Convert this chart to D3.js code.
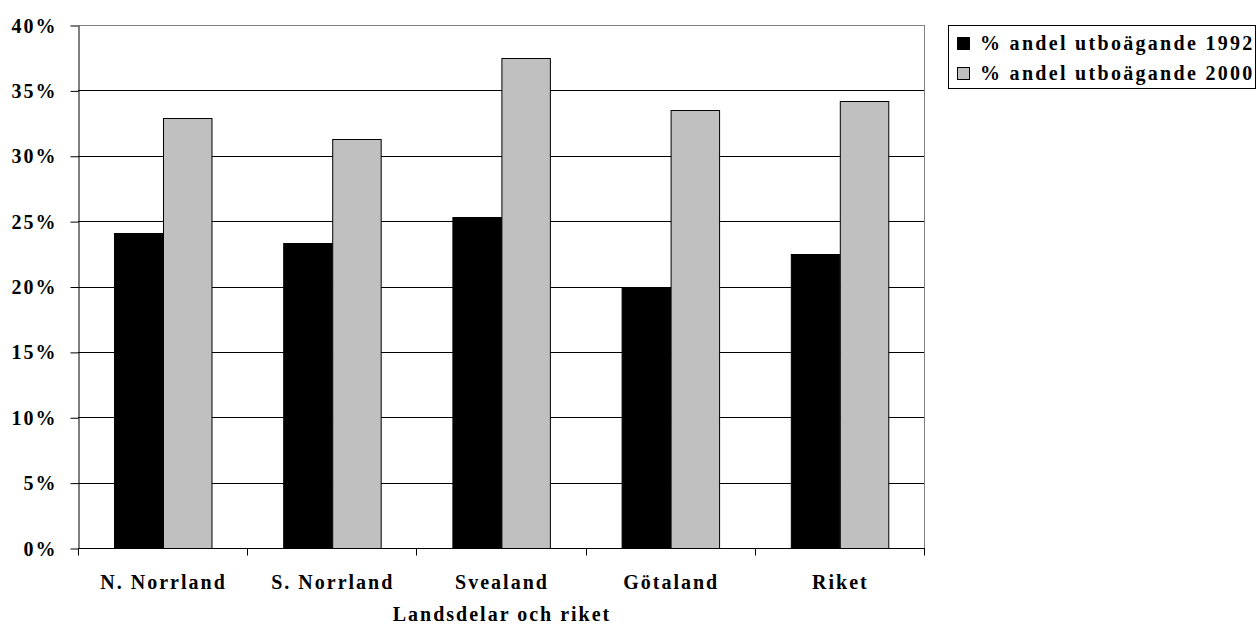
<!DOCTYPE html>
<html>
<head>
<meta charset="utf-8">
<script src="https://cdn.jsdelivr.net/npm/d3@7"></script>
<style>
  html, body { margin: 0; padding: 0; background: #fff; }
  svg { display: block; }
  svg text { font-family: "Liberation Serif", "DejaVu Serif", serif; font-weight: bold; font-size: 20px; letter-spacing: 2px; fill: #000; }
</style>
</head>
<body>
<svg id="chart" width="1257" height="627"></svg>
<script>
const categories = ["N. Norrland", "S. Norrland", "Svealand", "Götaland", "Riket"];
const seriesNames = ["% andel utboägande 1992", "% andel utboägande 2000"];
const values1992 = [24.1, 23.3, 25.3, 20.0, 22.5];
const values2000 = [32.9, 31.3, 37.5, 33.5, 34.2];
const yTicks = [0, 5, 10, 15, 20, 25, 30, 35, 40];
const xTitle = "Landsdelar och riket";
const colors = ["#000000", "#c0c0c0"];

const data = categories.map((c, i) => ({ cat: c, vals: [values1992[i], values2000[i]] }));

const svg = d3.select("#chart");
const mLeft = 78, mRight = 924, mTop = 25, mBottom = 548;

const x0 = d3.scaleBand().domain(categories).range([mLeft, mRight]).paddingInner(0).paddingOuter(0);
const x1 = d3.scaleBand().domain([0, 1]).range([0, x0.bandwidth()]).paddingInner(0).paddingOuter(0.745);
const y = d3.scaleLinear().domain([0, 40]).range([mBottom, mTop]);

// gridlines
svg.append("g").selectAll("line").data(yTicks.filter(t => t > 0 && t < 40)).join("line")
  .attr("x1", mLeft).attr("x2", mRight)
  .attr("y1", d => Math.round(y(d)) + 0.5).attr("y2", d => Math.round(y(d)) + 0.5)
  .attr("stroke", "#000").attr("stroke-width", 1);

// plot border top/right (gray)
svg.append("line").attr("x1", mLeft).attr("x2", mRight + 0.5).attr("y1", mTop + 0.5).attr("y2", mTop + 0.5)
  .attr("stroke", "#808080");
svg.append("line").attr("x1", mRight + 0.5).attr("x2", mRight + 0.5).attr("y1", mTop).attr("y2", mBottom)
  .attr("stroke", "#808080");

// bars
const groups = svg.append("g").selectAll("g").data(data).join("g")
  .attr("transform", d => `translate(${x0(d.cat)},0)`);
groups.selectAll("rect").data(d => d.vals.map((v, i) => ({ v, i }))).join("rect")
  .attr("x", d => Math.round(x1(d.i)) + 0.5)
  .attr("y", d => Math.round(y(d.v)) + 0.5)
  .attr("width", x1.bandwidth())
  .attr("height", d => Math.round(y(0)) - Math.round(y(d.v)))
  .attr("fill", d => colors[d.i])
  .attr("stroke", "#000").attr("stroke-width", 1);

// y axis
const yAxis = d3.axisLeft(y).tickValues(yTicks).tickSize(8).tickSizeOuter(0).tickFormat(d => d + "%");
const gy = svg.append("g").attr("transform", `translate(${mLeft + 0.5},0.5)`).call(yAxis);
gy.attr("font-family", null).attr("font-size", null);
gy.select(".domain").attr("stroke", "#000");
gy.selectAll("line").attr("stroke", "#000");
gy.selectAll("text").attr("x", -21).attr("dy", "0.33em");

// x axis
const gx = svg.append("g").attr("transform", `translate(0,${mBottom + 0.5})`);
gx.append("line").attr("x1", mLeft).attr("x2", mRight + 1).attr("y1", 0).attr("y2", 0).attr("stroke", "#000");
const bounds = categories.map(c => x0(c)).concat([mRight]);
gx.selectAll("line.tk").data(bounds).join("line").attr("class", "tk")
  .attr("x1", d => Math.round(d) + 0.5).attr("x2", d => Math.round(d) + 0.5)
  .attr("y1", 0).attr("y2", 7).attr("stroke", "#000");
gx.selectAll("text").data(categories).join("text")
  .attr("x", d => x0(d) + x0.bandwidth() / 2 + 1).attr("y", 40.5)
  .attr("text-anchor", "middle")
  .text(d => d);

svg.append("text").attr("x", 502).attr("y", 621).attr("text-anchor", "middle").text(xTitle);

// legend
const lg = svg.append("g");
lg.append("rect").attr("x", 948.5).attr("y", 25.5).attr("width", 307).attr("height", 63)
  .attr("fill", "#fff").attr("stroke", "#000");
seriesNames.forEach((s, i) => {
  const sy = 37 + i * 30;
  lg.append("rect").attr("x", 957.5).attr("y", sy + 0.5).attr("width", 12).attr("height", 12)
    .attr("fill", colors[i]).attr("stroke", "#000");
  lg.append("text").attr("x", 980).attr("y", sy + 13).style("letter-spacing", "2.3px").text(s);
});
</script>
</body>
</html>
